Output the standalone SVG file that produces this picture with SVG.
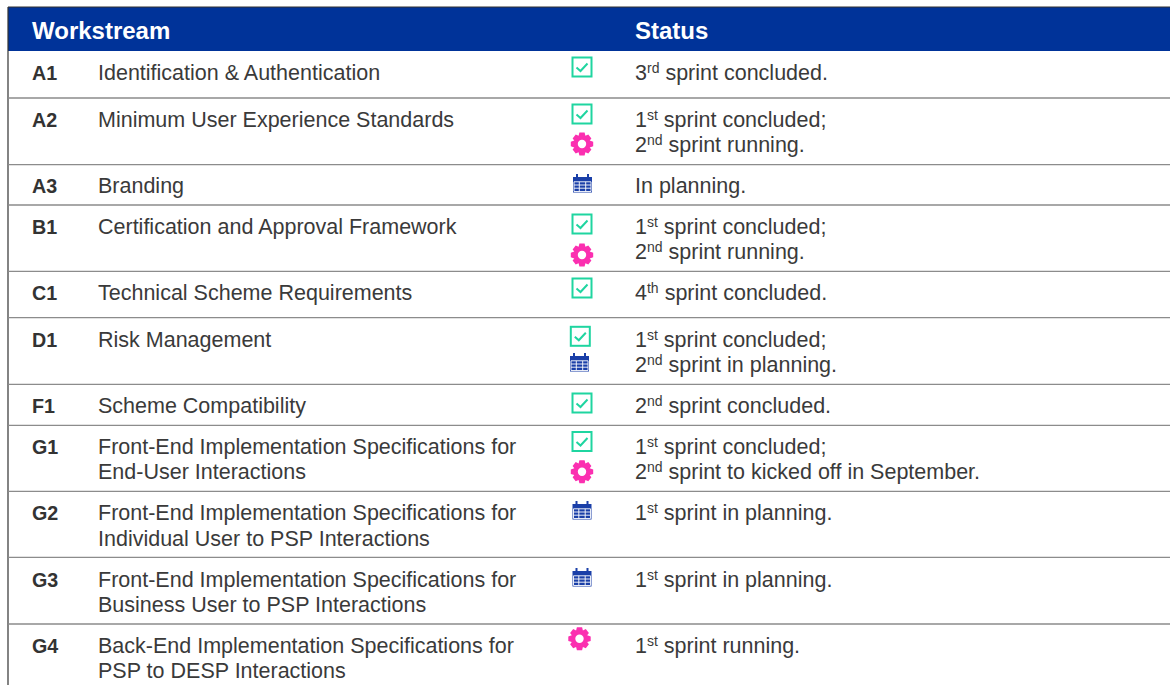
<svg xmlns="http://www.w3.org/2000/svg" width="1170" height="685" viewBox="0 0 1170 685">
<style>
text{font-family:"Liberation Sans",Arial,sans-serif;font-size:21.5px;fill:#3a3a3a}
.b{font-weight:bold;font-size:19.7px;fill:#333}
.h{font-weight:bold;font-size:24px;fill:#fff}
.s{font-size:14px}
.sep{stroke:#8c8c8c;stroke-width:1.3}
.chk{fill:none;stroke:#1fd5a0;stroke-width:2}
.gear{fill:#fb2fb0}
.cal{fill:#1a3fa8}
.calw{stroke:#fff;stroke-width:.9;fill:none}
</style>
<defs>
<g id="check"><rect class="chk" x="-9.5" y="-9.5" width="19" height="19"/><path class="chk" d="M-5.5,0.5 L-1.5,4 L5.5,-3.5"/></g>
<g id="cog"><path class="gear" fill-rule="evenodd" d="M-2.6,-11.5 H2.6 L3.4,-8.3 L6.3,-9.6 L9.4,-5.6 L7.7,-3.4 L11.2,-2.3 V2.3 L7.7,3.4 L9.4,5.6 L6.3,9.6 L3.4,8.3 L2.6,11.5 H-2.6 L-3.4,8.3 L-6.3,9.6 L-9.4,5.6 L-7.7,3.4 L-11.2,2.3 V-2.3 L-7.7,-3.4 L-9.4,-5.6 L-6.3,-9.6 L-3.4,-8.3 Z M0,-4.2 A4.2,4.2 0 1 0 0,4.2 A4.2,4.2 0 1 0 0,-4.2 Z"/></g>
<g id="calendar"><rect class="cal" x="-9.5" y="-6.5" width="19" height="15.5"/><path class="calw" d="M-8.5,-1.7 H8.5 V8 H-8.5 Z M-8.5,1.5 H8.5 M-8.5,4.7 H8.5 M-3.2,-1.7 V8 M3.2,-1.7 V8"/><rect class="cal" x="-6.5" y="-9.5" width="2" height="4.5"/><rect class="cal" x="4.5" y="-9.5" width="2" height="4.5"/></g>
</defs>
<rect id="header" x="8" y="7" width="1162" height="44" fill="#003399"/>
<g id="connectors">
<path d="M8,7 H1170 M8,7 V685" stroke="#333" stroke-width="1.2" fill="none"/>
<path class="sep" d="M8,98 H1170 M8,164.7 H1170 M8,205 H1170 M8,271.3 H1170 M8,317.7 H1170 M8,384.3 H1170 M8,425.3 H1170 M8,491.3 H1170 M8,557.3 H1170 M8,624 H1170"/>
</g>
<text class="h" x="32" y="39">Workstream</text>
<text class="h" x="635" y="39">Status</text>
<g id="A1"><text class="b" x="32" y="80">A1</text><text x="98" y="80">Identification &amp; Authentication</text><use href="#check" x="582" y="67"/><text x="635" y="80">3<tspan class="s" dy="-7">rd</tspan><tspan dy="7"> sprint concluded.</tspan></text></g>
<g id="A2"><text class="b" x="32" y="127">A2</text><text x="98" y="127">Minimum User Experience Standards</text><use href="#check" x="582" y="114"/><use href="#cog" x="582" y="144"/><text x="635" y="127">1<tspan class="s" dy="-7">st</tspan><tspan dy="7"> sprint concluded;</tspan></text><text x="635" y="152">2<tspan class="s" dy="-7">nd</tspan><tspan dy="7"> sprint running.</tspan></text></g>
<g id="A3"><text class="b" x="32" y="193">A3</text><text x="98" y="193">Branding</text><use href="#calendar" x="582.5" y="183.5"/><text x="635" y="193">In planning.</text></g>
<g id="B1"><text class="b" x="32" y="234">B1</text><text x="98" y="234">Certification and Approval Framework</text><use href="#check" x="582" y="224"/><use href="#cog" x="582" y="255"/><text x="635" y="234">1<tspan class="s" dy="-7">st</tspan><tspan dy="7"> sprint concluded;</tspan></text><text x="635" y="259">2<tspan class="s" dy="-7">nd</tspan><tspan dy="7"> sprint running.</tspan></text></g>
<g id="C1"><text class="b" x="32" y="300">C1</text><text x="98" y="300">Technical Scheme Requirements</text><use href="#check" x="582" y="288"/><text x="635" y="300">4<tspan class="s" dy="-7">th</tspan><tspan dy="7"> sprint concluded.</tspan></text></g>
<g id="D1"><text class="b" x="32" y="347">D1</text><text x="98" y="347">Risk Management</text><use href="#check" x="580.3" y="336.3"/><use href="#calendar" x="579.5" y="362.5"/><text x="635" y="347">1<tspan class="s" dy="-7">st</tspan><tspan dy="7"> sprint concluded;</tspan></text><text x="635" y="372">2<tspan class="s" dy="-7">nd</tspan><tspan dy="7"> sprint in planning.</tspan></text></g>
<g id="F1"><text class="b" x="32" y="413">F1</text><text x="98" y="413">Scheme Compatibility</text><use href="#check" x="582" y="403"/><text x="635" y="413">2<tspan class="s" dy="-7">nd</tspan><tspan dy="7"> sprint concluded.</tspan></text></g>
<g id="G1"><text class="b" x="32" y="454">G1</text><text x="98" y="454">Front-End Implementation Specifications for</text><text x="98" y="479">End-User Interactions</text><use href="#check" x="582" y="441.5"/><use href="#cog" x="582" y="471.7"/><text x="635" y="454">1<tspan class="s" dy="-7">st</tspan><tspan dy="7"> sprint concluded;</tspan></text><text x="635" y="479">2<tspan class="s" dy="-7">nd</tspan><tspan dy="7"> sprint to kicked off in September.</tspan></text></g>
<g id="G2"><text class="b" x="32" y="520">G2</text><text x="98" y="520">Front-End Implementation Specifications for</text><text x="98" y="546">Individual User to PSP Interactions</text><use href="#calendar" x="582" y="510.5"/><text x="635" y="520">1<tspan class="s" dy="-7">st</tspan><tspan dy="7"> sprint in planning.</tspan></text></g>
<g id="G3"><text class="b" x="32" y="586.5">G3</text><text x="98" y="586.5">Front-End Implementation Specifications for</text><text x="98" y="612">Business User to PSP Interactions</text><use href="#calendar" x="582" y="577.5"/><text x="635" y="586.5">1<tspan class="s" dy="-7">st</tspan><tspan dy="7"> sprint in planning.</tspan></text></g>
<g id="G4"><text class="b" x="32" y="653">G4</text><text x="98" y="653">Back-End Implementation Specifications for</text><text x="98" y="678">PSP to DESP Interactions</text><use href="#cog" x="579.5" y="638.7"/><text x="635" y="653">1<tspan class="s" dy="-7">st</tspan><tspan dy="7"> sprint running.</tspan></text></g>
</svg>
